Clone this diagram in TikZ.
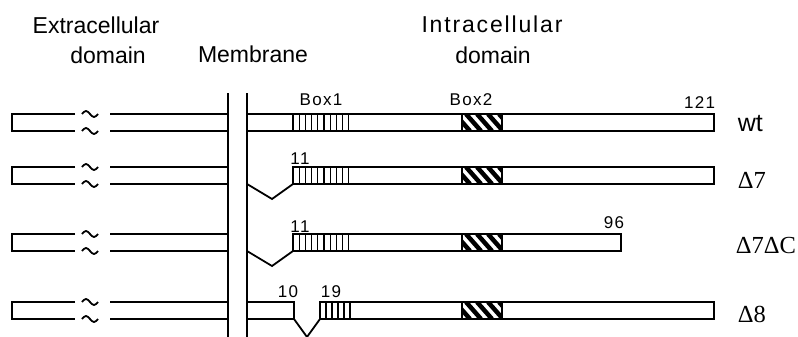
\documentclass[tikz,border=0pt]{standalone}
\usepackage{fontspec}
\setmainfont{Liberation Sans}
\newfontfamily\spcfont[LetterSpace=8]{Liberation Sans}
\newfontfamily\spcI[LetterSpace=8]{Liberation Sans}
\newfontfamily\serfont{Liberation Serif}
\begin{document}
\begin{tikzpicture}[x=1pt,y=1pt, line width=1.8pt, line join=miter,
  hdr/.style={font=\fontsize{23}{25}\selectfont, inner sep=0pt, anchor=base},
  num/.style={font=\spcfont\fontsize{17}{19}\selectfont, inner sep=0pt},
  var/.style={font=\serfont\fontsize{24.5}{27}\selectfont, inner sep=0pt, anchor=base west},
  hatchline/.style={line width=1.3pt},
  stripe/.style={line width=4.5pt}]
\useasboundingbox (0,0) rectangle (798,-337);

% headers
\node[hdr] (ex1) at (96,-34) {Extracellular};
\node[hdr] (ex2) at (108,-64) {domain};
\node[hdr] (mem) at (253,-63) {Membrane};
\node[hdr] (in1) at (492,-33) {\spcI Intracellular};
\node[hdr] (in2) at (493,-64) {domain};

% membrane
\draw (228,-93) -- (228,-337);
\draw (247,-93) -- (247,-337);

% extracellular pieces
\foreach \t/\b in {114/131,167/184,234/251,302/319}{
  \draw (75,-\t) -- (12,-\t) -- (12,-\b) -- (75,-\b);
  \draw (110,-\t) -- (228,-\t);
  \draw (110,-\b) -- (228,-\b);
  \foreach \y in {\t,\b}{
    \draw[line width=1.8pt] (82,-\y) sin (86,{-\y+3}) cos (90,-\y) sin (94,{-\y-3}) cos (98,-\y);
  }
}

% wt
\draw (247,-114) -- (714,-114) -- (714,-131) -- (247,-131);
% delta7
\draw (247,-184) -- (272,-199) -- (293,-184);
\draw (293,-184) -- (293,-167) -- (714,-167) -- (714,-184) -- cycle;
% delta7deltaC
\draw (247,-251) -- (272,-266) -- (293,-251);
\draw (293,-251) -- (293,-234) -- (621,-234) -- (621,-251) -- cycle;
% delta8
\draw (247,-302) -- (294,-302) -- (294,-319) -- (247,-319);
\draw (294,-319) -- (307,-337) -- (320,-319);
\draw (320,-319) -- (320,-302) -- (714,-302) -- (714,-319) -- cycle;

% Box1 hatching
\foreach \t/\b in {114/131,167/184,234/251}{
  \foreach \k in {0,...,9}{
    \draw[hatchline] ({293+6.2*\k},-\t) -- ({293+6.2*\k},-\b);
  }
}
\foreach \k in {0,...,5}{
  \draw[hatchline] ({320+6*\k},-302) -- ({320+6*\k},-319);
}

% Box2 hatching
\foreach \t/\b in {114/131,167/184,234/251,302/319}{
  \begin{scope}
    \clip (462,-\t) rectangle (502,-\b);
    \foreach \s in {444,455,466,477,488,499}{
      \draw[stripe] (\s,-\t) -- ({\s+15},-\b);
    }
  \end{scope}
  \draw[line width=1.6pt] (462,-\t) rectangle (502,-\b);
}

% labels
\node[num, anchor=base] (b1) at (321,-106) {Box1};
\node[num, anchor=base] (b2) at (471,-106) {Box2};
\node[num, anchor=base east] (n121) at (716,-108) {121};
\node[num, anchor=base] (n11a) at (300,-164) {11};
\node[num, anchor=base] (n11b) at (300,-232) {11};
\node[num, anchor=base east] (n96) at (625,-228) {96};
\node[num, anchor=base] (n10) at (288,-297) {10};
\node[num, anchor=base] (n19) at (331,-297) {19};

\node[var, font=\fontsize{25}{28}\selectfont] (wt) at (737,-131) {wt};
\node[var] (d7) at (737,-188) {Δ7};
\node[var] (d7c) at (735,-253) {Δ7ΔC};
\node[var] (d8) at (737,-322) {Δ8};
\end{tikzpicture}
\end{document}
